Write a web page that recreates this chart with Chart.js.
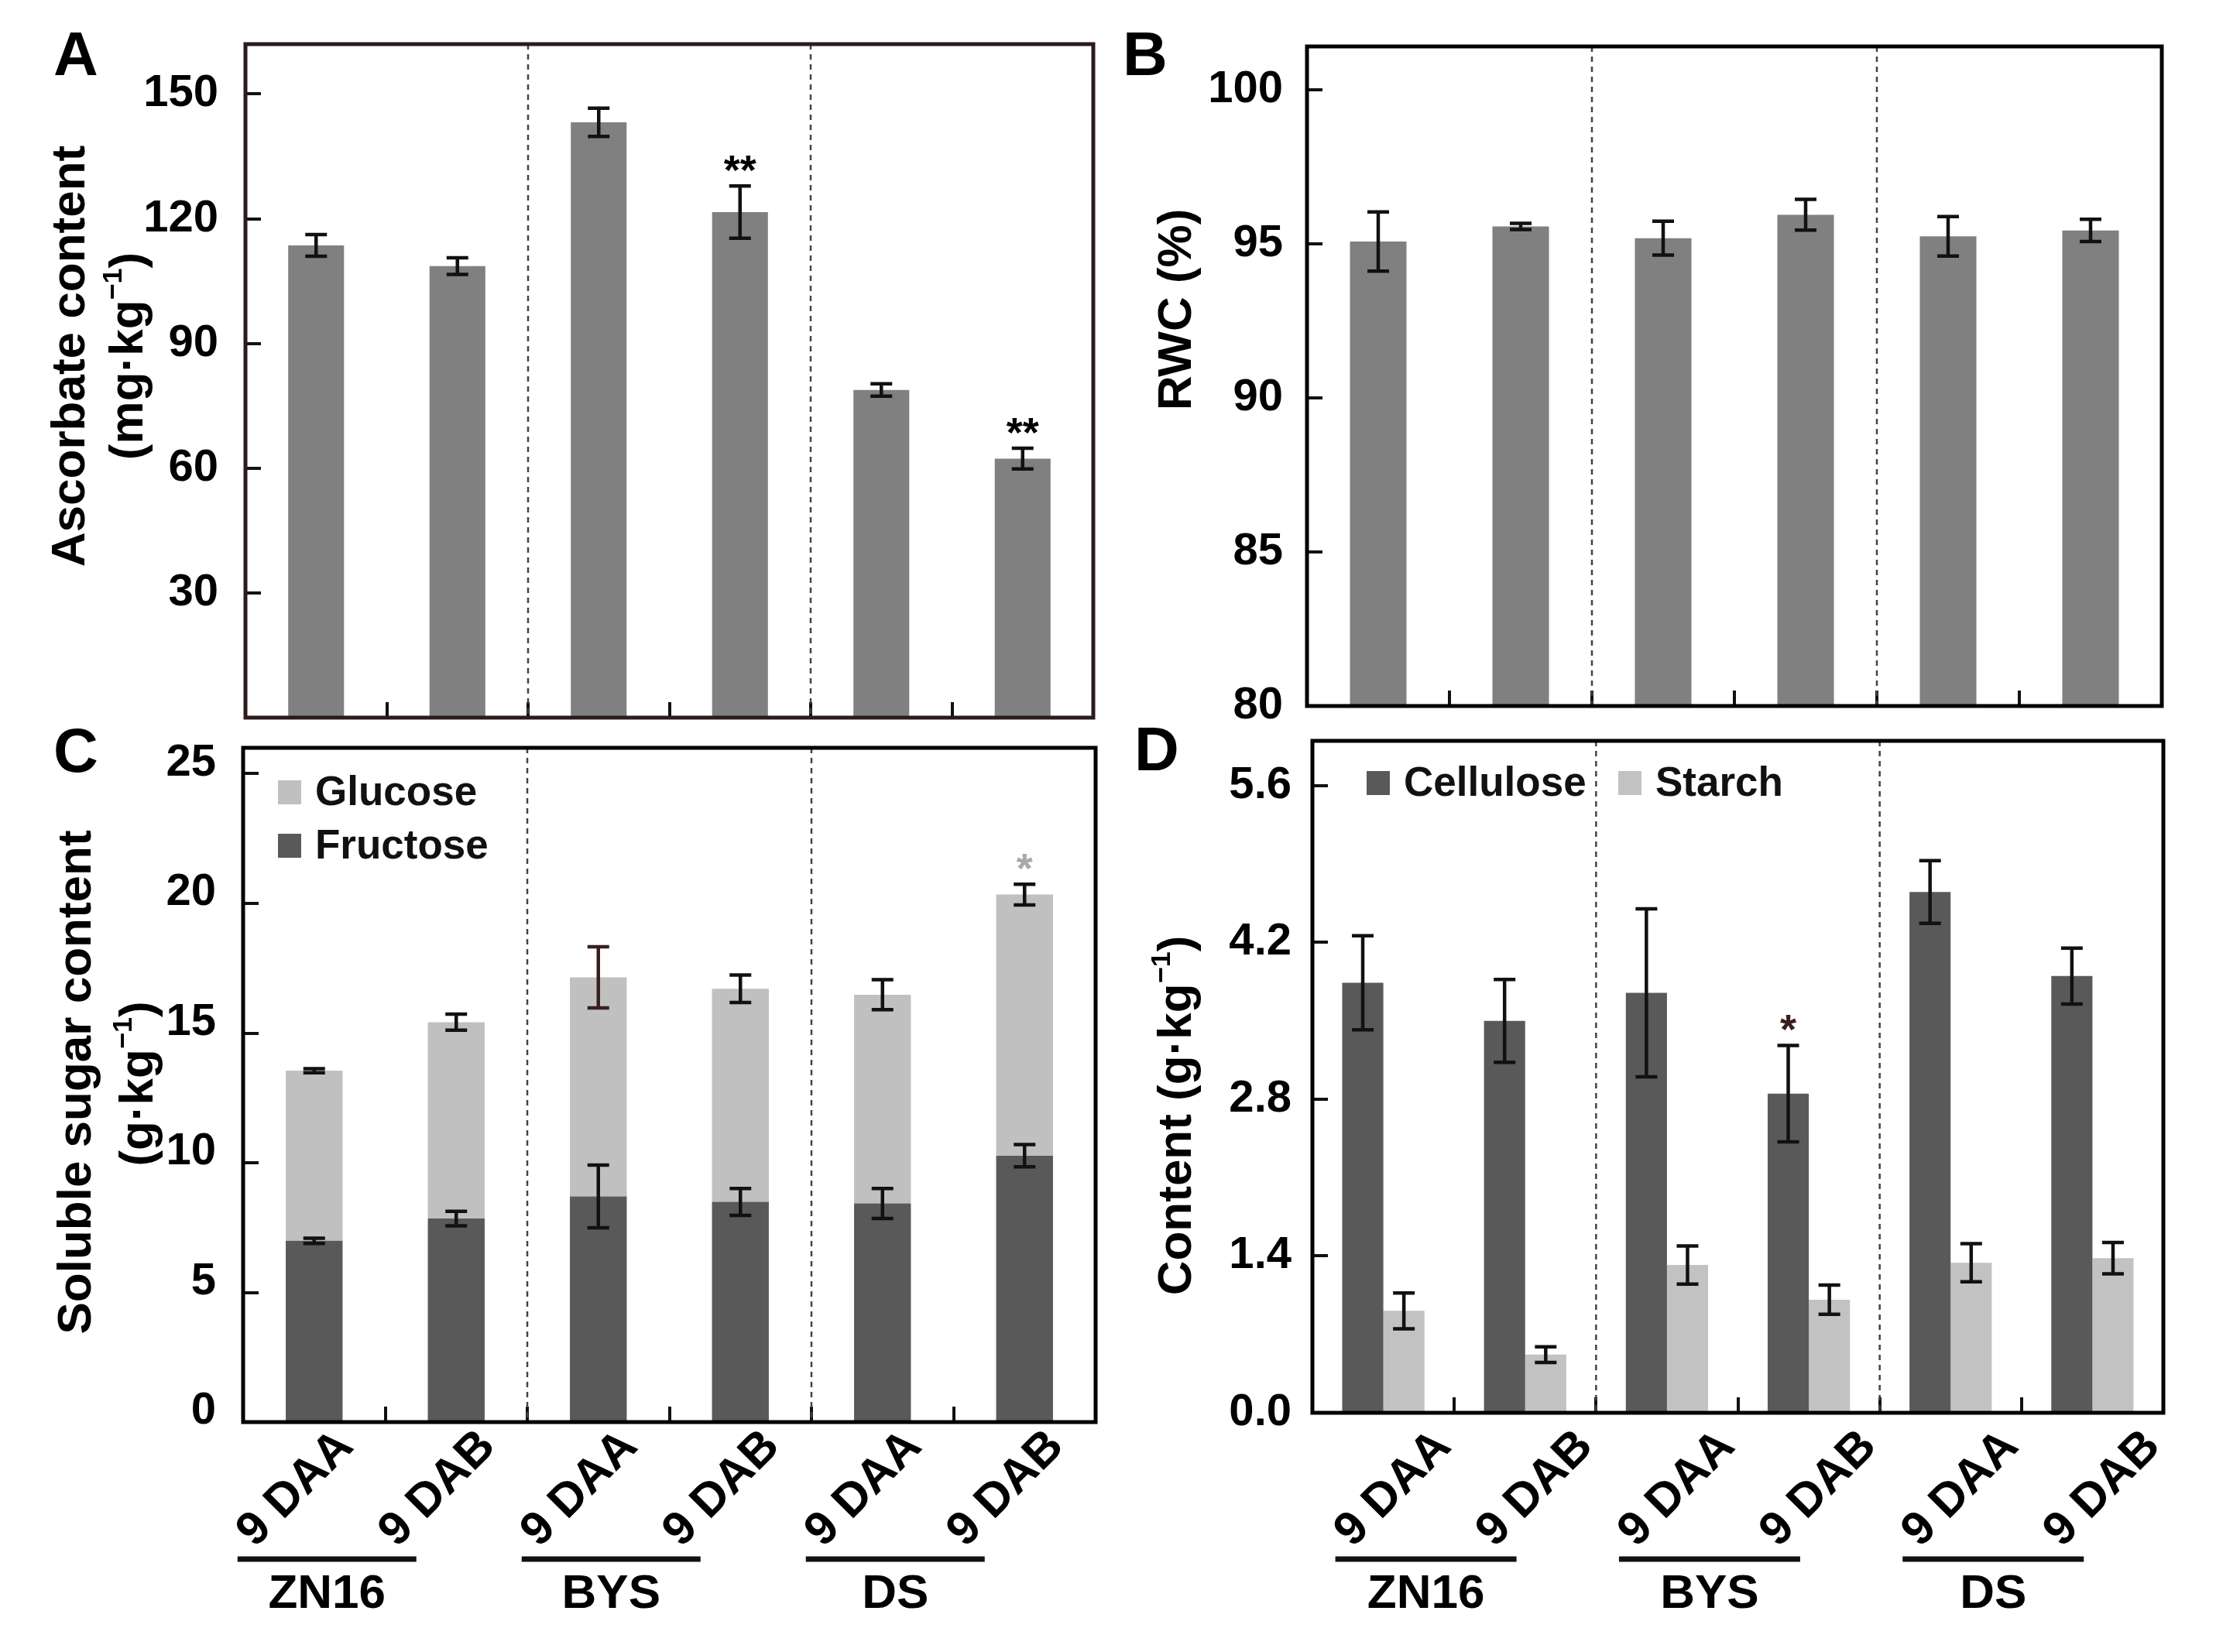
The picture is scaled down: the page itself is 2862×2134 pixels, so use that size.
<!DOCTYPE html>
<html>
<head>
<meta charset="utf-8">
<title>Ascorbato, RWC, açúcares e parede celular</title>
<script src="https://cdn.jsdelivr.net/npm/chart.js@4.4.1/dist/chart.umd.min.js"></script>
<style>
  html, body { margin: 0; padding: 0; background: #fff; }
  body { position: relative; width: 2862px; height: 2134px; overflow: hidden; }
  canvas { position: absolute; }
</style>
</head>
<body>
<canvas id="painelA" width="1431" height="930" style="left:0;top:0;width:1431px;height:930px"></canvas>
<canvas id="painelB" width="1431" height="930" style="left:1431px;top:0;width:1431px;height:930px"></canvas>
<canvas id="painelC" width="1431" height="1234" style="left:0;top:900px;width:1431px;height:1234px"></canvas>
<canvas id="painelD" width="1431" height="1234" style="left:1431px;top:900px;width:1431px;height:1234px"></canvas>
<script>
// --- Dados (valores estimados) ---
const categorias = ['9 DAA', '9 DAB', '9 DAA', '9 DAB', '9 DAA', '9 DAB'];
const grupos = ['ZN16', 'BYS', 'DS'];

const ascorbato = [113.6, 108.6, 143.2, 121.6, 78.8, 62.3];
const ascorbatoErro = [2.6, 2.0, 3.4, 6.3, 1.5, 2.5];
const ascorbatoSig = ['', '', '', '**', '', '**'];

const rwc = [95.07, 95.56, 95.18, 95.94, 95.24, 95.43];
const rwcErro = [0.96, 0.1, 0.55, 0.5, 0.64, 0.36];

const frutose = [6.99, 7.85, 8.70, 8.49, 8.43, 10.27];
const frutoseErro = [0.10, 0.28, 1.21, 0.52, 0.58, 0.43];
const glicose = [6.56, 7.57, 8.45, 8.22, 8.05, 10.07];   // empilhada sobre a frutose
const glicoseErro = [0.08, 0.31, 1.18, 0.53, 0.58, 0.40];
const glicoseSig = ['', '', '', '', '', '*'];

const celulose = [3.84, 3.50, 3.75, 2.85, 4.65, 3.90];
const celuloseErro = [0.42, 0.37, 0.75, 0.43, 0.28, 0.25];
const celuloseSig = ['', '', '', '*', '', ''];
const amido = [0.91, 0.52, 1.32, 1.01, 1.34, 1.38];
const amidoErro = [0.16, 0.07, 0.17, 0.13, 0.17, 0.14];

// Rótulos dos eixos Y
const ticksA = [30, 60, 90, 120, 150];
const ticksB = [80, 85, 90, 95, 100];
const ticksC = [0, 5, 10, 15, 20, 25];
const ticksD = [0, 1.4, 2.8, 4.2, 5.6];

// --- Estilo geral ---
const FONTE = "'Liberation Sans', Arial, Helvetica, sans-serif";
Chart.defaults.font.family = FONTE;
Chart.defaults.font.weight = 'bold';
Chart.defaults.color = '#000';
Chart.defaults.animation = false;
Chart.defaults.plugins.legend.display = false;
Chart.defaults.plugins.tooltip.enabled = false;

// Escreve texto com partes sobrescritas, centrado na origem atual
function textoRico(ctx, partes, tam) {
    let largura = 0;
    partes.forEach(p => {
        ctx.font = `bold ${p.sup ? tam * 0.58 : tam}px ${FONTE}`;
        largura += ctx.measureText(p.t).width;
    });
    let xx = -largura / 2;
    ctx.textAlign = 'left';
    ctx.textBaseline = 'middle';
    partes.forEach(p => {
        ctx.font = `bold ${p.sup ? tam * 0.58 : tam}px ${FONTE}`;
        ctx.fillText(p.t, xx, p.sup ? -tam * 0.32 : 0);
        xx += ctx.measureText(p.t).width;
    });
}

// Plugin com barras de erro, moldura, linhas tracejadas, legenda e textos
function decoracao(cfg) {
    return {
        id: 'decoracao',
        afterDatasetsDraw(chart) {
            const ctx = chart.ctx;
            const area = chart.chartArea;
            const x = chart.scales.x, y = chart.scales.y;
            const empilhado = !!chart.options.scales.y.stacked;
            ctx.save();

            // linhas tracejadas entre as cultivares
            ctx.strokeStyle = '#444';
            ctx.lineWidth = 2.5;
            ctx.setLineDash([7, 6]);
            [1, 3].forEach(i => {
                const px = (x.getPixelForValue(i) + x.getPixelForValue(i + 1)) / 2;
                ctx.beginPath();
                ctx.moveTo(px, area.top);
                ctx.lineTo(px, area.bottom);
                ctx.stroke();
            });
            ctx.setLineDash([]);

            // barras de erro e asteriscos
            const acumulado = categorias.map(() => 0);
            chart.data.datasets.forEach((ds, di) => {
                const meta = chart.getDatasetMeta(di);
                ds.data.forEach((v, i) => {
                    const topo = empilhado ? (acumulado[i] += v) : v;
                    const e = ds.erros[i];
                    const bx = meta.data[i].x;
                    const y1 = y.getPixelForValue(topo + e);
                    const y2 = y.getPixelForValue(topo - e);
                    ctx.strokeStyle = Array.isArray(ds.corErro) ? ds.corErro[i] : (ds.corErro || '#111');
                    ctx.lineWidth = 4.5;
                    ctx.beginPath();
                    ctx.moveTo(bx, y1); ctx.lineTo(bx, y2);
                    ctx.moveTo(bx - 14, y1); ctx.lineTo(bx + 14, y1);
                    ctx.moveTo(bx - 14, y2); ctx.lineTo(bx + 14, y2);
                    ctx.stroke();
                    if (ds.sig && ds.sig[i]) {
                        ctx.fillStyle = ds.corSig || '#000';
                        ctx.font = `bold 54px ${FONTE}`;
                        ctx.textAlign = 'center';
                        ctx.textBaseline = 'alphabetic';
                        ctx.fillText(ds.sig[i], bx, y1 - 2);
                    }
                });
            });

            // moldura do gráfico
            ctx.strokeStyle = cfg.corMoldura;
            ctx.lineWidth = 5;
            ctx.strokeRect(area.left, area.top, area.right - area.left, area.bottom - area.top);

            // letra do painel
            ctx.fillStyle = '#000';
            ctx.font = `bold 80px ${FONTE}`;
            ctx.textAlign = 'left';
            ctx.textBaseline = 'alphabetic';
            ctx.fillText(cfg.letra[0], cfg.letra[1], cfg.letra[2]);

            // título do eixo Y (rotacionado)
            cfg.titulo.forEach(l => {
                ctx.save();
                ctx.translate(l.x, l.y);
                ctx.rotate(-Math.PI / 2);
                textoRico(ctx, l.partes, 62);
                ctx.restore();
            });

            // legenda
            if (cfg.legenda) {
                cfg.legenda.forEach(it => {
                    const ds = chart.data.datasets[it.ds];
                    const lx = area.left + it.dx, ly = area.top + it.dy;
                    ctx.fillStyle = ds.backgroundColor;
                    ctx.fillRect(lx, ly - 15, 30, 31);
                    ctx.fillStyle = '#111';
                    ctx.font = `bold 53px ${FONTE}`;
                    ctx.textAlign = 'left';
                    ctx.textBaseline = 'middle';
                    ctx.fillText(ds.label, lx + 48, ly + 2);
                });
            }

            // cultivares sob os rótulos do eixo X
            if (cfg.grupos) {
                const g = cfg.grupos;
                grupos.forEach((nome, k) => {
                    const px = x.getPixelForValue(2 * k);
                    const a = px + g.de, b = px + g.ate;
                    ctx.strokeStyle = '#111';
                    ctx.lineWidth = 7;
                    ctx.beginPath();
                    ctx.moveTo(a, g.yLinha); ctx.lineTo(b, g.yLinha);
                    ctx.stroke();
                    ctx.fillStyle = '#000';
                    ctx.font = `bold 62px ${FONTE}`;
                    ctx.textAlign = 'center';
                    ctx.textBaseline = 'middle';
                    ctx.fillText(nome, (a + b) / 2, g.yTexto);
                });
            }
            ctx.restore();
        }
    };
}

// Eixo X de categorias com marcas para dentro
function eixoX(altura, mostrar, deslocamento, espaco) {
    return {
        type: 'category',
        offset: true,
        border: { display: false },
        grid: { display: true, offset: true, drawOnChartArea: false, drawTicks: true, tickLength: -20, lineWidth: 4, color: '#111' },
        ticks: {
            display: mostrar, autoSkip: false, minRotation: 45, maxRotation: 45,
            labelOffset: deslocamento, padding: espaco,
            font: { size: 61, weight: 'bold' }, color: '#000'
        },
        afterFit: s => { s.height = altura; s.paddingLeft = 0; s.paddingRight = 0; }
    };
}

// Eixo Y linear com rótulos definidos
function eixoY(largura, min, max, valores, espaco, formato, desloc) {
    return {
        type: 'linear', min: min, max: max,
        border: { display: false },
        grid: { display: true, drawOnChartArea: false, drawTicks: true, tickLength: -20, lineWidth: 4, color: '#111' },
        ticks: {
            padding: espaco, labelOffset: desloc || 0,
            font: { size: 58, weight: 'bold' }, color: '#000',
            callback: v => formato ? formato(v) : String(v)
        },
        afterBuildTicks: s => { s.ticks = valores.map(v => ({ value: v })); },
        afterFit: s => { s.width = largura; s.paddingTop = 0; s.paddingBottom = 0; }
    };
}

function opcoes(pad, escalas) {
    return {
        responsive: false,
        devicePixelRatio: 1,
        layout: { autoPadding: false, padding: pad },
        scales: escalas
    };
}

// --- Painel A: ascorbato ---
new Chart(document.getElementById('painelA'), {
    type: 'bar',
    data: {
        labels: categorias,
        datasets: [{
            label: 'Ascorbate', data: ascorbato, erros: ascorbatoErro, sig: ascorbatoSig,
            backgroundColor: '#808080', borderWidth: 0, barPercentage: 0.395, categoryPercentage: 1
        }]
    },
    options: opcoes({ left: 0, top: 57, right: 19, bottom: 0 }, {
        x: eixoX(3, false, 0, 0),
        y: eixoY(317, 0, 162, ticksA, 55)
    }),
    plugins: [decoracao({
        corMoldura: '#2b1c1c',
        letra: ['A', 69, 97],
        titulo: [
            { x: 92, y: 460, partes: [{ t: 'Ascorbate content' }] },
            { x: 167, y: 460, partes: [{ t: '(mg·kg' }, { t: '−1', sup: true }, { t: ')' }] }
        ]
    })]
});

// --- Painel B: RWC ---
new Chart(document.getElementById('painelB'), {
    type: 'bar',
    data: {
        labels: categorias,
        datasets: [{
            label: 'RWC', data: rwc, erros: rwcErro,
            backgroundColor: '#808080', borderWidth: 0, barPercentage: 0.397, categoryPercentage: 1
        }]
    },
    options: opcoes({ left: 0, top: 60, right: 70, bottom: 0 }, {
        x: eixoX(18, false, 0, 0),
        y: eixoY(257, 80, 101.4, ticksB, 51)
    }),
    plugins: [decoracao({
        corMoldura: '#000',
        letra: ['B', 19, 97],
        titulo: [{ x: 90, y: 400, partes: [{ t: 'RWC (%)' }] }]
    })]
});

// --- Painel C: açúcares solúveis (empilhado) ---
new Chart(document.getElementById('painelC'), {
    type: 'bar',
    data: {
        labels: categorias,
        datasets: [{
            label: 'Fructose', data: frutose, erros: frutoseErro,
            backgroundColor: '#595959', borderWidth: 0, barPercentage: 0.40, categoryPercentage: 1
        }, {
            label: 'Glucose', data: glicose, erros: glicoseErro, sig: glicoseSig, corSig: '#a9a9a9',
            corErro: ['#111', '#111', '#3a1e1e', '#111', '#111', '#111'],
            backgroundColor: '#c0c0c0', borderWidth: 0, barPercentage: 0.40, categoryPercentage: 1
        }]
    },
    options: opcoes({ left: 0, top: 66, right: 16, bottom: 0 }, {
        x: Object.assign(eixoX(297, true, 41, 16), { stacked: true }),
        y: Object.assign(eixoY(314, 0, 26, ticksC, 55, null, -14), { stacked: true })
    }),
    plugins: [decoracao({
        corMoldura: '#000',
        letra: ['C', 69, 97],
        titulo: [
            { x: 100, y: 498, partes: [{ t: 'Soluble sugar content' }] },
            { x: 180, y: 500, partes: [{ t: '(g·kg' }, { t: '−1', sup: true }, { t: ')' }] }
        ],
        legenda: [{ ds: 1, dx: 45, dy: 57 }, { ds: 0, dx: 45, dy: 126 }],
        grupos: { de: -99, ate: 132, yLinha: 1114, yTexto: 1160 }
    })]
});

// --- Painel D: celulose e amido (agrupado) ---
new Chart(document.getElementById('painelD'), {
    type: 'bar',
    data: {
        labels: categorias,
        datasets: [{
            label: 'Cellulose', data: celulose, erros: celuloseErro, sig: celuloseSig, corSig: '#3a1e1e',
            backgroundColor: '#595959', borderWidth: 0, barPercentage: 1, categoryPercentage: 0.58
        }, {
            label: 'Starch', data: amido, erros: amidoErro,
            backgroundColor: '#c2c2c2', borderWidth: 0, barPercentage: 1, categoryPercentage: 0.58
        }]
    },
    options: opcoes({ left: 0, top: 57, right: 68, bottom: 0 }, {
        x: eixoX(309, true, 78, 28),
        y: eixoY(264, 0, 6.0, ticksD, 47, v => v.toFixed(1))
    }),
    plugins: [decoracao({
        corMoldura: '#000',
        letra: ['D', 34, 95],
        titulo: [{ x: 90, y: 541, partes: [{ t: 'Content (g·kg' }, { t: '−1', sup: true }, { t: ')' }] }],
        legenda: [{ ds: 0, dx: 70, dy: 54 }, { ds: 1, dx: 395, dy: 54 }],
        grupos: { de: -62, ate: 172, yLinha: 1114, yTexto: 1160 }
    })]
});
</script>
</body>
</html>
